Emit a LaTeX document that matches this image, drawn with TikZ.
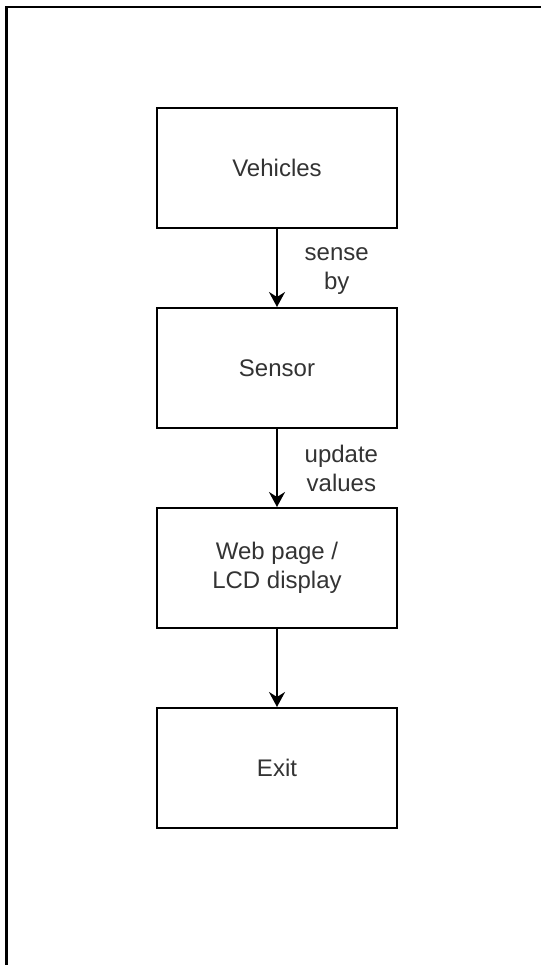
\documentclass[tikz,border=0pt]{standalone}
\usepackage{fontspec}
\setmainfont{Liberation Sans}
\usetikzlibrary{arrows.meta, positioning}

\begin{document}
\begin{tikzpicture}[
    font=\fontsize{12}{14.5}\selectfont,
    >={Stealth[length=7.5pt, width=8pt, inset=2.5pt]},
    node distance=39pt,
    % --- styles ---
    % process boxes
    block/.style={draw, line width=1pt, minimum width=120pt, minimum height=60pt, align=center, text=black!80},
    % connectors
    flow/.style={->, line width=1pt},
    % connector labels
    note/.style={right=10pt, align=center, text=black!80}
]

% ==================== page frame ====================
\useasboundingbox (0,0) rectangle (270.5pt,-482.5pt);
\draw[line width=1.2pt] (270.5pt,-3.5pt) -- (3.2pt,-3.5pt) -- (3.2pt,-482.5pt);

% ==================== boxes ====================
\node[block] (vehicles) at (138.5pt,-84pt) {Vehicles};
\node[block, below=of vehicles] (sensor) {Sensor};
\node[block, below=of sensor] (display) {Web page /\\LCD display};
\node[block, below=of display] (exit) {Exit};

% ==================== arrows ====================
\draw[flow] (vehicles) -- node[note, yshift=-1.5pt] {sense\\by} (sensor);
\draw[flow] (sensor) -- node[note] {update\\values} (display);
\draw[flow] (display) -- (exit);

\end{tikzpicture}
\end{document}
